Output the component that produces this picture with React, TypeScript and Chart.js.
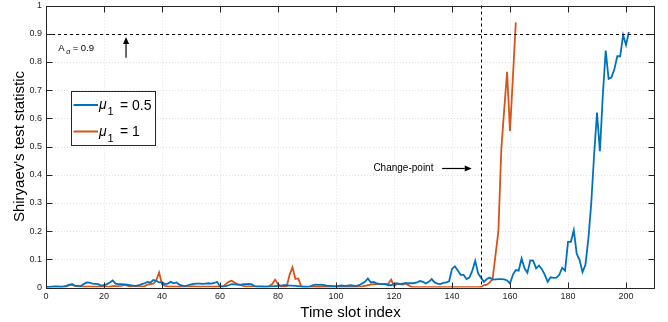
import React, { useEffect, useRef } from "react";
import { Chart, registerables } from "chart.js";

Chart.register(...registerables);

const X_TICKS = [0, 20, 40, 60, 80, 100, 120, 140, 160, 180, 200];
const Y_TICKS = [0, 0.1, 0.2, 0.3, 0.4, 0.5, 0.6, 0.7, 0.8, 0.9, 1];
const X_MAX = 210;

const THRESHOLD = 0.9;
const CHANGE_POINT = 150;

const SERIES_NAMES = ["0.5", "1"];
const BLUE = "#0072BD";
const ORANGE = "#D95319";

// mu1 = 0.5, time slots 0..201
const muHalf = [
  0.002, 0.002, 0.003, 0.004, 0.004, 0.003, 0.004, 0.006, 0.010, 0.009,
  0.007, 0.006, 0.005, 0.012, 0.018, 0.017, 0.014, 0.013, 0.012, 0.007,
  0.008, 0.012, 0.018, 0.025, 0.014, 0.012, 0.012, 0.011, 0.010, 0.008,
  0.007, 0.006, 0.008, 0.012, 0.015, 0.020, 0.017, 0.027, 0.024, 0.018,
  0.019, 0.012, 0.014, 0.020, 0.015, 0.018, 0.010, 0.007, 0.005, 0.008,
  0.011, 0.013, 0.014, 0.014, 0.013, 0.014, 0.015, 0.014, 0.016, 0.020,
  0.004, 0.004, 0.005, 0.008, 0.012, 0.011, 0.010, 0.009, 0.012, 0.012,
  0.013, 0.011, 0.004, 0.003, 0.003, 0.002, 0.002, 0.003, 0.004, 0.005,
  0.006, 0.007, 0.008, 0.008, 0.007, 0.007, 0.006, 0.005, 0.003, 0.003,
  0.003, 0.004, 0.008, 0.010, 0.009, 0.010, 0.008, 0.006, 0.006, 0.005,
  0.005, 0.006, 0.007, 0.006, 0.007, 0.008, 0.007, 0.006, 0.008, 0.014,
  0.020, 0.032, 0.018, 0.020, 0.015, 0.013, 0.012, 0.012, 0.008, 0.008,
  0.013, 0.015, 0.012, 0.014, 0.015, 0.015, 0.015, 0.016, 0.018, 0.023,
  0.020, 0.014, 0.020, 0.030, 0.018, 0.014, 0.012, 0.016, 0.018, 0.022,
  0.066, 0.075, 0.060, 0.045, 0.045, 0.030, 0.035, 0.060, 0.095, 0.050,
  0.035, 0.020, 0.030, 0.035, 0.028, 0.029, 0.030, 0.030, 0.029, 0.025,
  0.014, 0.045, 0.062, 0.060, 0.103, 0.068, 0.052, 0.096, 0.095, 0.068,
  0.078, 0.065, 0.045, 0.020, 0.036, 0.034, 0.035, 0.045, 0.070, 0.060,
  0.162, 0.162, 0.203, 0.120, 0.097, 0.055, 0.080, 0.170, 0.296, 0.470,
  0.620, 0.483, 0.680, 0.840, 0.740, 0.745, 0.775, 0.820, 0.820, 0.895,
  0.860, 0.906,
];

// mu1 = 1, time slots 0..162
const muOne = [
  0.002, 0.002, 0.002, 0.002, 0.002, 0.002, 0.002, 0.003, 0.008, 0.013,
  0.005, 0.004, 0.004, 0.003, 0.003, 0.003, 0.003, 0.003, 0.003, 0.003,
  0.003, 0.003, 0.003, 0.005, 0.005, 0.005, 0.006, 0.009, 0.007, 0.004,
  0.004, 0.004, 0.004, 0.004, 0.005, 0.010, 0.012, 0.014, 0.025, 0.053,
  0.012, 0.006, 0.004, 0.003, 0.003, 0.003, 0.003, 0.003, 0.003, 0.003,
  0.004, 0.004, 0.003, 0.003, 0.003, 0.003, 0.003, 0.003, 0.003, 0.003,
  0.003, 0.003, 0.012, 0.020, 0.024, 0.018, 0.012, 0.009, 0.006, 0.004,
  0.004, 0.004, 0.004, 0.004, 0.004, 0.004, 0.004, 0.005, 0.012, 0.028,
  0.012, 0.003, 0.003, 0.004, 0.045, 0.072, 0.030, 0.032, 0.004, 0.002,
  0.002, 0.002, 0.002, 0.002, 0.002, 0.002, 0.002, 0.002, 0.002, 0.002,
  0.002, 0.002, 0.002, 0.002, 0.002, 0.002, 0.002, 0.002, 0.003, 0.004,
  0.006, 0.008, 0.010, 0.012, 0.012, 0.012, 0.012, 0.012, 0.013, 0.028,
  0.005, 0.012, 0.012, 0.010, 0.015, 0.008, 0.002, 0.001, 0.001, 0.001,
  0.001, 0.001, 0.001, 0.001, 0.001, 0.001, 0.001, 0.001, 0.001, 0.001,
  0.001, 0.001, 0.001, 0.001, 0.001, 0.001, 0.001, 0.001, 0.001, 0.001,
  0.002, 0.008, 0.010, 0.018, 0.030, 0.115, 0.200, 0.490, 0.630, 0.765,
  0.555, 0.745, 0.940,
];

const FONT = '"Liberation Sans", Arial, Helvetica, sans-serif';
const AXIS_COLOR = "#262626";

const decor = {
  id: "decor",
  beforeDatasetsDraw(chart: any) {
    const { ctx, chartArea: a, scales } = chart;
    const x = scales.x;
    const y = scales.y;
    ctx.save();
    ctx.strokeStyle = "#d8d8d8";
    ctx.lineWidth = 0.8;
    ctx.setLineDash([1, 2]);
    X_TICKS.forEach((v) => {
      const px = Math.round(x.getPixelForValue(v)) + 0.5;
      ctx.beginPath();
      ctx.moveTo(px, a.top);
      ctx.lineTo(px, a.bottom);
      ctx.stroke();
    });
    Y_TICKS.forEach((v) => {
      const py = Math.round(y.getPixelForValue(v)) + 0.5;
      ctx.beginPath();
      ctx.moveTo(a.left, py);
      ctx.lineTo(a.right, py);
      ctx.stroke();
    });
    ctx.restore();
  },
  afterDatasetsDraw(chart: any) {
    const { ctx, chartArea: a, scales } = chart;
    const x = scales.x;
    const y = scales.y;
    ctx.save();

    // dashed threshold and change-point lines
    ctx.strokeStyle = "#000";
    ctx.lineWidth = 1;
    ctx.setLineDash([3, 3]);
    const ty = Math.round(y.getPixelForValue(THRESHOLD)) + 0.5;
    ctx.beginPath();
    ctx.moveTo(a.left, ty);
    ctx.lineTo(a.right, ty);
    ctx.stroke();
    const cx = Math.round(x.getPixelForValue(CHANGE_POINT)) + 0.5;
    ctx.beginPath();
    ctx.moveTo(cx, a.top);
    ctx.lineTo(cx, a.bottom);
    ctx.stroke();
    ctx.setLineDash([]);

    // axes box and inward ticks
    ctx.strokeStyle = AXIS_COLOR;
    ctx.lineWidth = 1;
    const L = Math.round(a.left) + 0.5;
    const R = Math.round(a.right) - 0.5;
    const T = Math.round(a.top) + 0.5;
    const B = Math.round(a.bottom) + 0.5;
    ctx.strokeRect(L, T, R - L, B - T);
    const tl = 6;
    ctx.beginPath();
    X_TICKS.forEach((v) => {
      const px = Math.round(x.getPixelForValue(v)) + 0.5;
      ctx.moveTo(px, B);
      ctx.lineTo(px, B - tl);
      ctx.moveTo(px, T);
      ctx.lineTo(px, T + tl);
    });
    Y_TICKS.forEach((v) => {
      const py = Math.round(y.getPixelForValue(v)) + 0.5;
      ctx.moveTo(L, py);
      ctx.lineTo(L + tl, py);
      ctx.moveTo(R, py);
      ctx.lineTo(R - tl, py);
    });
    ctx.stroke();

    // arrow helper
    const arrow = (x0: number, y0: number, x1: number, y1: number) => {
      ctx.strokeStyle = "#000";
      ctx.fillStyle = "#000";
      ctx.lineWidth = 1.2;
      const ang = Math.atan2(y1 - y0, x1 - x0);
      const hl = 7;
      const hw = 3;
      const bx = x1 - hl * Math.cos(ang);
      const by = y1 - hl * Math.sin(ang);
      ctx.beginPath();
      ctx.moveTo(x0, y0);
      ctx.lineTo(bx, by);
      ctx.stroke();
      ctx.beginPath();
      ctx.moveTo(x1, y1);
      ctx.lineTo(bx + hw * Math.sin(ang), by - hw * Math.cos(ang));
      ctx.lineTo(bx - hw * Math.sin(ang), by + hw * Math.cos(ang));
      ctx.closePath();
      ctx.fill();
    };

    // A_alpha annotation
    ctx.fillStyle = "#000";
    ctx.textBaseline = "alphabetic";
    ctx.textAlign = "left";
    const ax = x.getPixelForValue(4.2);
    const ay = y.getPixelForValue(0.838);
    ctx.font = `9.5px ${FONT}`;
    ctx.fillText("A", ax, ay);
    ctx.font = `italic 7px ${FONT}`;
    ctx.fillText("α", ax + 8, ay + 2.5);
    ctx.font = `9.5px ${FONT}`;
    ctx.fillText("= 0.9", ax + 14.5, ay);
    arrow(x.getPixelForValue(27.6), y.getPixelForValue(0.815), x.getPixelForValue(27.6), y.getPixelForValue(0.888));

    // Change-point annotation
    ctx.font = `10px ${FONT}`;
    ctx.textAlign = "right";
    ctx.textBaseline = "middle";
    ctx.fillStyle = "#000";
    const cpy = y.getPixelForValue(0.422);
    ctx.fillText("Change-point", x.getPixelForValue(133.6), cpy);
    arrow(x.getPixelForValue(136.6), cpy, x.getPixelForValue(146.8), cpy);

    // legend
    const lx = 71.5, lyTop = 91.5, lw = 84, lh = 54;
    ctx.fillStyle = "#fff";
    ctx.fillRect(lx, lyTop, lw, lh);
    ctx.strokeStyle = AXIS_COLOR;
    ctx.lineWidth = 1;
    ctx.strokeRect(lx, lyTop, lw, lh);
    const rows = [
      { color: BLUE, label: SERIES_NAMES[0], cy: 105 },
      { color: ORANGE, label: SERIES_NAMES[1], cy: 131.5 },
    ];
    rows.forEach((r) => {
      ctx.strokeStyle = r.color;
      ctx.lineWidth = 2;
      ctx.beginPath();
      ctx.moveTo(73.5, r.cy);
      ctx.lineTo(98, r.cy);
      ctx.stroke();
      ctx.fillStyle = "#000";
      ctx.textAlign = "left";
      ctx.textBaseline = "alphabetic";
      ctx.font = `italic 14px ${FONT}`;
      ctx.fillText("μ", 99, r.cy + 4);
      ctx.font = `11px ${FONT}`;
      ctx.fillText("1", 107.5, r.cy + 10);
      ctx.font = `14px ${FONT}`;
      ctx.fillText("= " + r.label, 120, r.cy + 4.5);
    });

    // axis titles
    ctx.fillStyle = "#000";
    ctx.font = `15px ${FONT}`;
    ctx.textAlign = "center";
    ctx.textBaseline = "middle";
    ctx.fillText("Time slot index", (a.left + a.right) / 2, 313);
    ctx.save();
    ctx.translate(20, (a.top + a.bottom) / 2);
    ctx.rotate(-Math.PI / 2);
    ctx.fillText("Shiryaev's test statistic", 0, 0);
    ctx.restore();

    ctx.restore();
  },
};

export default function App() {
  const ref = useRef<HTMLCanvasElement>(null);
  useEffect(() => {
    const canvas = ref.current;
    if (!canvas) return;
    const chart = new Chart(canvas, {
      type: "line",
      data: {
        datasets: [
          {
            label: "μ1 = " + SERIES_NAMES[0],
            data: muHalf.map((v, i) => ({ x: i, y: v })),
            borderColor: BLUE,
            backgroundColor: BLUE,
            borderWidth: 1.8,
            pointRadius: 0,
            tension: 0,
          },
          {
            label: "μ1 = " + SERIES_NAMES[1],
            data: muOne.map((v, i) => ({ x: i, y: v })),
            borderColor: ORANGE,
            backgroundColor: ORANGE,
            borderWidth: 1.8,
            pointRadius: 0,
            tension: 0,
          },
        ],
      },
      options: {
        animation: false,
        responsive: true,
        maintainAspectRatio: false,
        layout: { padding: { top: 5.5, right: 13, left: 0, bottom: 0 } },
        plugins: {
          legend: { display: false },
          tooltip: { enabled: false },
          title: { display: false },
        },
        scales: {
          x: {
            type: "linear",
            min: 0,
            max: X_MAX,
            grid: { display: false, drawTicks: false, tickLength: 0 },
            border: { display: false },
            afterBuildTicks: (s: any) => {
              s.ticks = X_TICKS.map((v) => ({ value: v }));
            },
            afterFit: (s: any) => {
              s.height = 34.5;
              s.paddingLeft = 0;
              s.paddingRight = 0;
            },
            ticks: {
              autoSkip: false,
              maxRotation: 0,
              padding: 4,
              color: AXIS_COLOR,
              font: { family: FONT, size: 9 },
              callback: (v: any) => String(v),
            },
          },
          y: {
            type: "linear",
            min: 0,
            max: 1,
            grid: { display: false, drawTicks: false, tickLength: 0 },
            border: { display: false },
            afterBuildTicks: (s: any) => {
              s.ticks = Y_TICKS.map((v) => ({ value: v }));
            },
            afterFit: (s: any) => {
              s.width = 46;
              s.paddingTop = 0;
              s.paddingBottom = 0;
            },
            ticks: {
              autoSkip: false,
              padding: 4,
              color: AXIS_COLOR,
              font: { family: FONT, size: 9 },
              callback: (v: any) => String(v),
            },
          },
        },
      },
      plugins: [decor],
    });
    return () => chart.destroy();
  }, []);
  return (
    <div style={{ position: "fixed", left: 0, top: 0, width: 668, height: 322, background: "#fff" }}>
      <canvas ref={ref} />
    </div>
  );
}
